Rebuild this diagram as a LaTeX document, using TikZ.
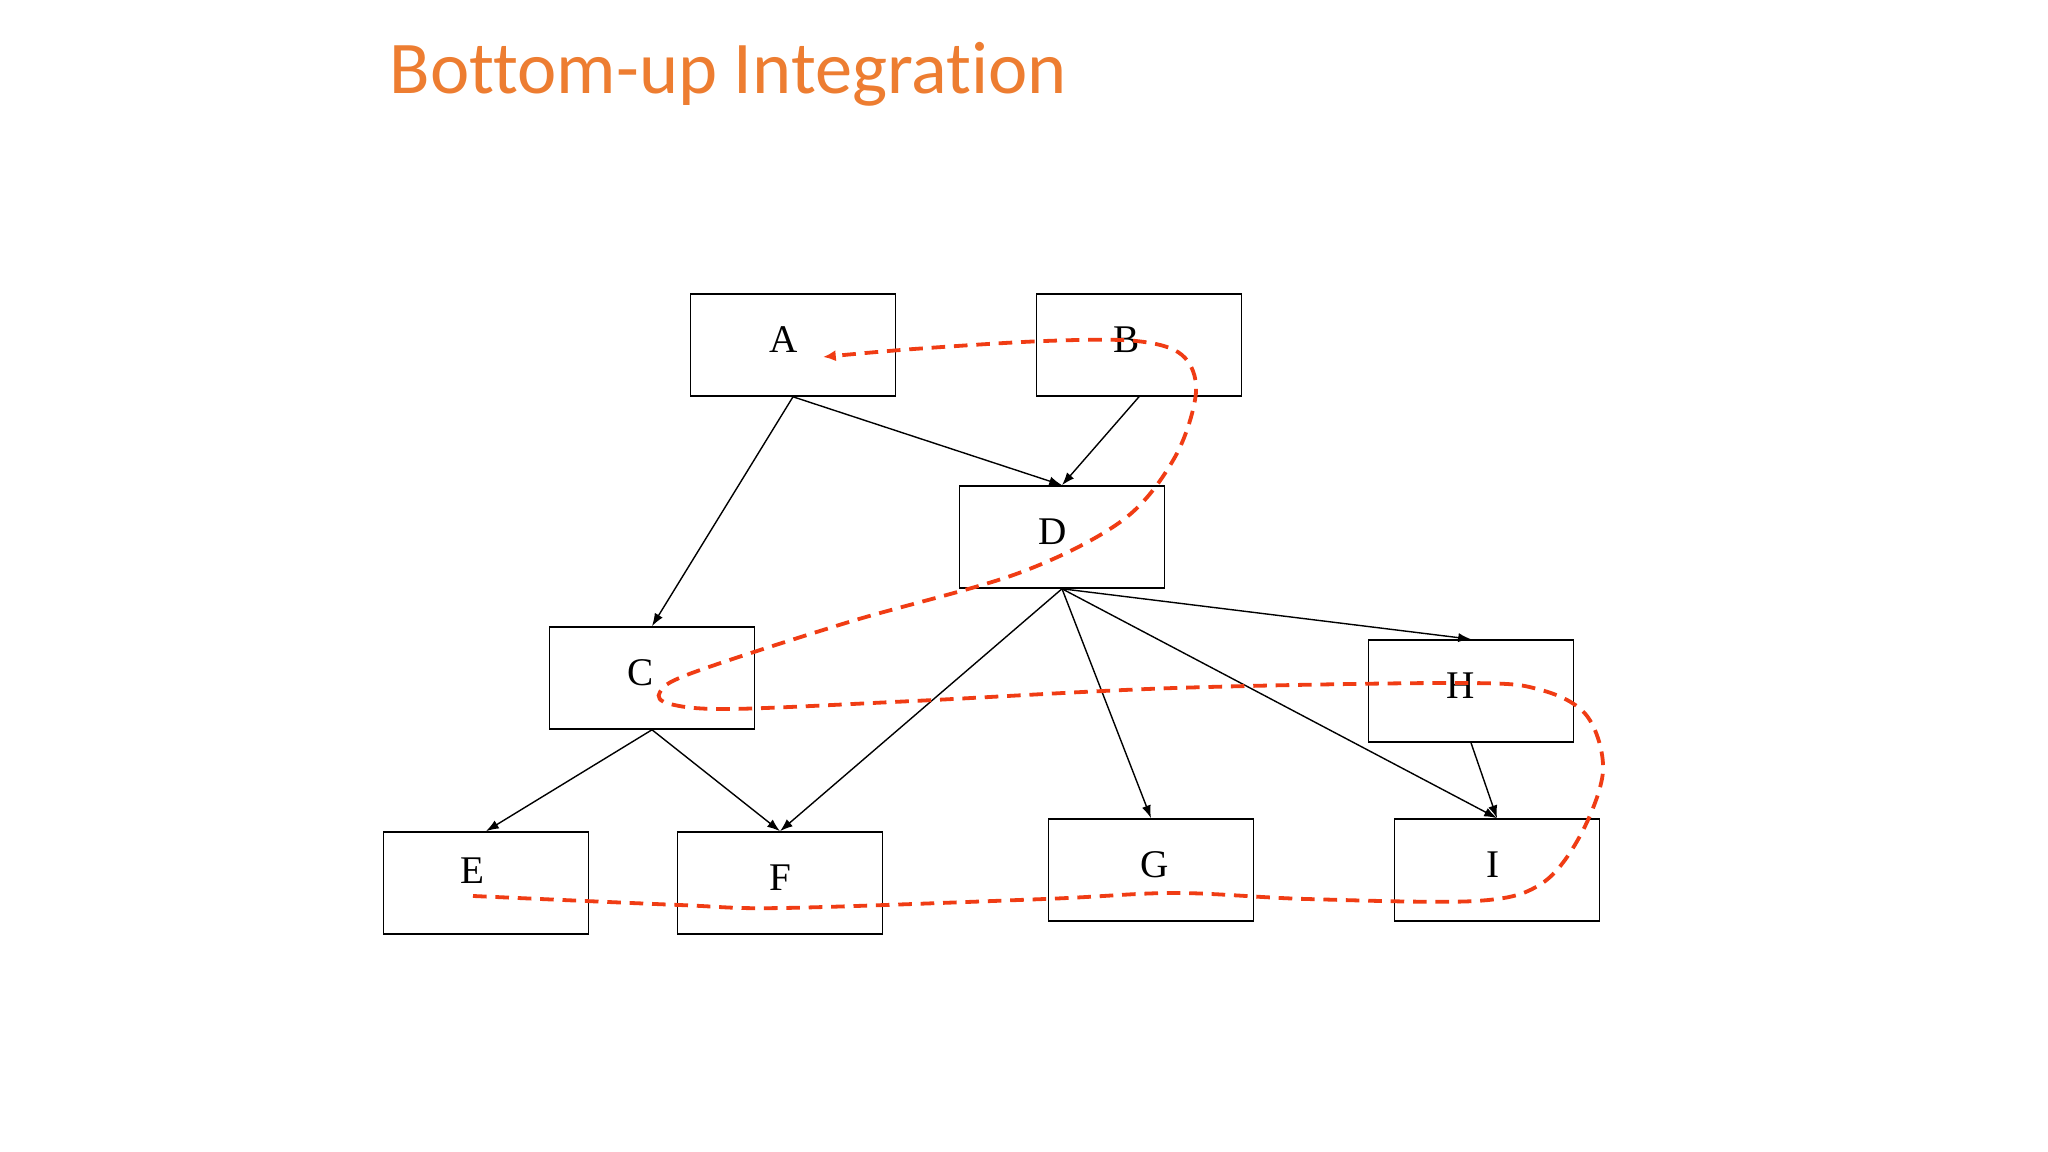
\documentclass[tikz,border=0pt]{standalone}
\usepackage{fontspec}
\setmainfont{Liberation Serif}
\newfontfamily\titlefont[Ligatures={NoCommon,NoDiscretionary}]{Carlito}
\usetikzlibrary{arrows.meta}
\definecolor{titleorange}{RGB}{237,125,49}
\definecolor{pathred}{RGB}{240,60,20}
\begin{document}
\begin{tikzpicture}[x=0.25pt,y=-0.25pt,
  box/.style={draw=black,line width=0.4pt,minimum width=51.25pt,minimum height=25.5pt,inner sep=0pt},
  lbl/.style={font=\fontsize{9.8}{11}\selectfont,inner sep=0pt},
  edge/.style={line width=0.35pt,-{Latex[length=3.2pt,width=2.3pt]}},
  flow/.style={pathred,line width=0.95pt,dash pattern=on 3.4pt off 2.2pt,-{Latex[length=3.2pt,width=2.8pt]}}]
\fill[white] (0,0) rectangle (2048,1152);
\useasboundingbox (0,0) rectangle (2048,1152);
\node[anchor=base west,inner sep=0pt,text=titleorange,font=\titlefont\fontsize{18.6}{22}\selectfont] (title) at (389,94) {Bottom-up Integration};
% boxes
\node[box] (A) at (793,345) {};
\node[box] (B) at (1139,345) {};
\node[box] (D) at (1062,537) {};
\node[box] (C) at (652,678) {};
\node[box] (H) at (1471,691) {};
\node[box] (E) at (486,883) {};
\node[box] (F) at (780,883) {};
\node[box] (G) at (1151,870) {};
\node[box] (I) at (1497,870) {};
% labels
\node[lbl] (lA) at (784,340) {A};
\node[lbl] (lB) at (1127,340) {B};
\node[lbl] (lD) at (1053,532) {D};
\node[lbl] (lC) at (641,673) {C};
\node[lbl] (lH) at (1461,686) {H};
\node[lbl] (lE) at (472,871) {E};
\node[lbl] (lF) at (780,878) {F};
\node[lbl] (lG) at (1155,865) {G};
\node[lbl] (lI) at (1493,865) {I};
% edges
\draw[edge] (A.south) -- (C.north);
\draw[edge] (A.south) -- (D.north);
\draw[edge] (B.south) -- (D.north);
\draw[edge] (D.south) -- (H.north);
\draw[edge] (D.south) -- (F.north);
\draw[edge] (D.south) -- (G.north);
\draw[edge] (D.south) -- (I.north);
\draw[edge] (H.south) -- (I.north);
\draw[edge] (C.south) -- (E.north);
\draw[edge] (C.south) -- (F.north);
% integration path
\coordinate (pstart) at (473,896);
\coordinate (pend) at (823,357);
\draw[flow] plot[smooth,tension=0.55] coordinates {
 (pstart) (679,905) (784,908) (1045,899) (1175,893) (1306,899) (1476,901)
 (1541,884) (1580,836) (1603,771) (1587,716) (1541,690) (1463,683)
 (1175,688) (914,701) (731,709) (670,704) (660,692) (692,673)
 (849,622) (1019,573) (1123,520) (1175,457) (1196,392) (1182,355)
 (1136,341) (1045,341) (914,349) (pend)};
\end{tikzpicture}
\end{document}
